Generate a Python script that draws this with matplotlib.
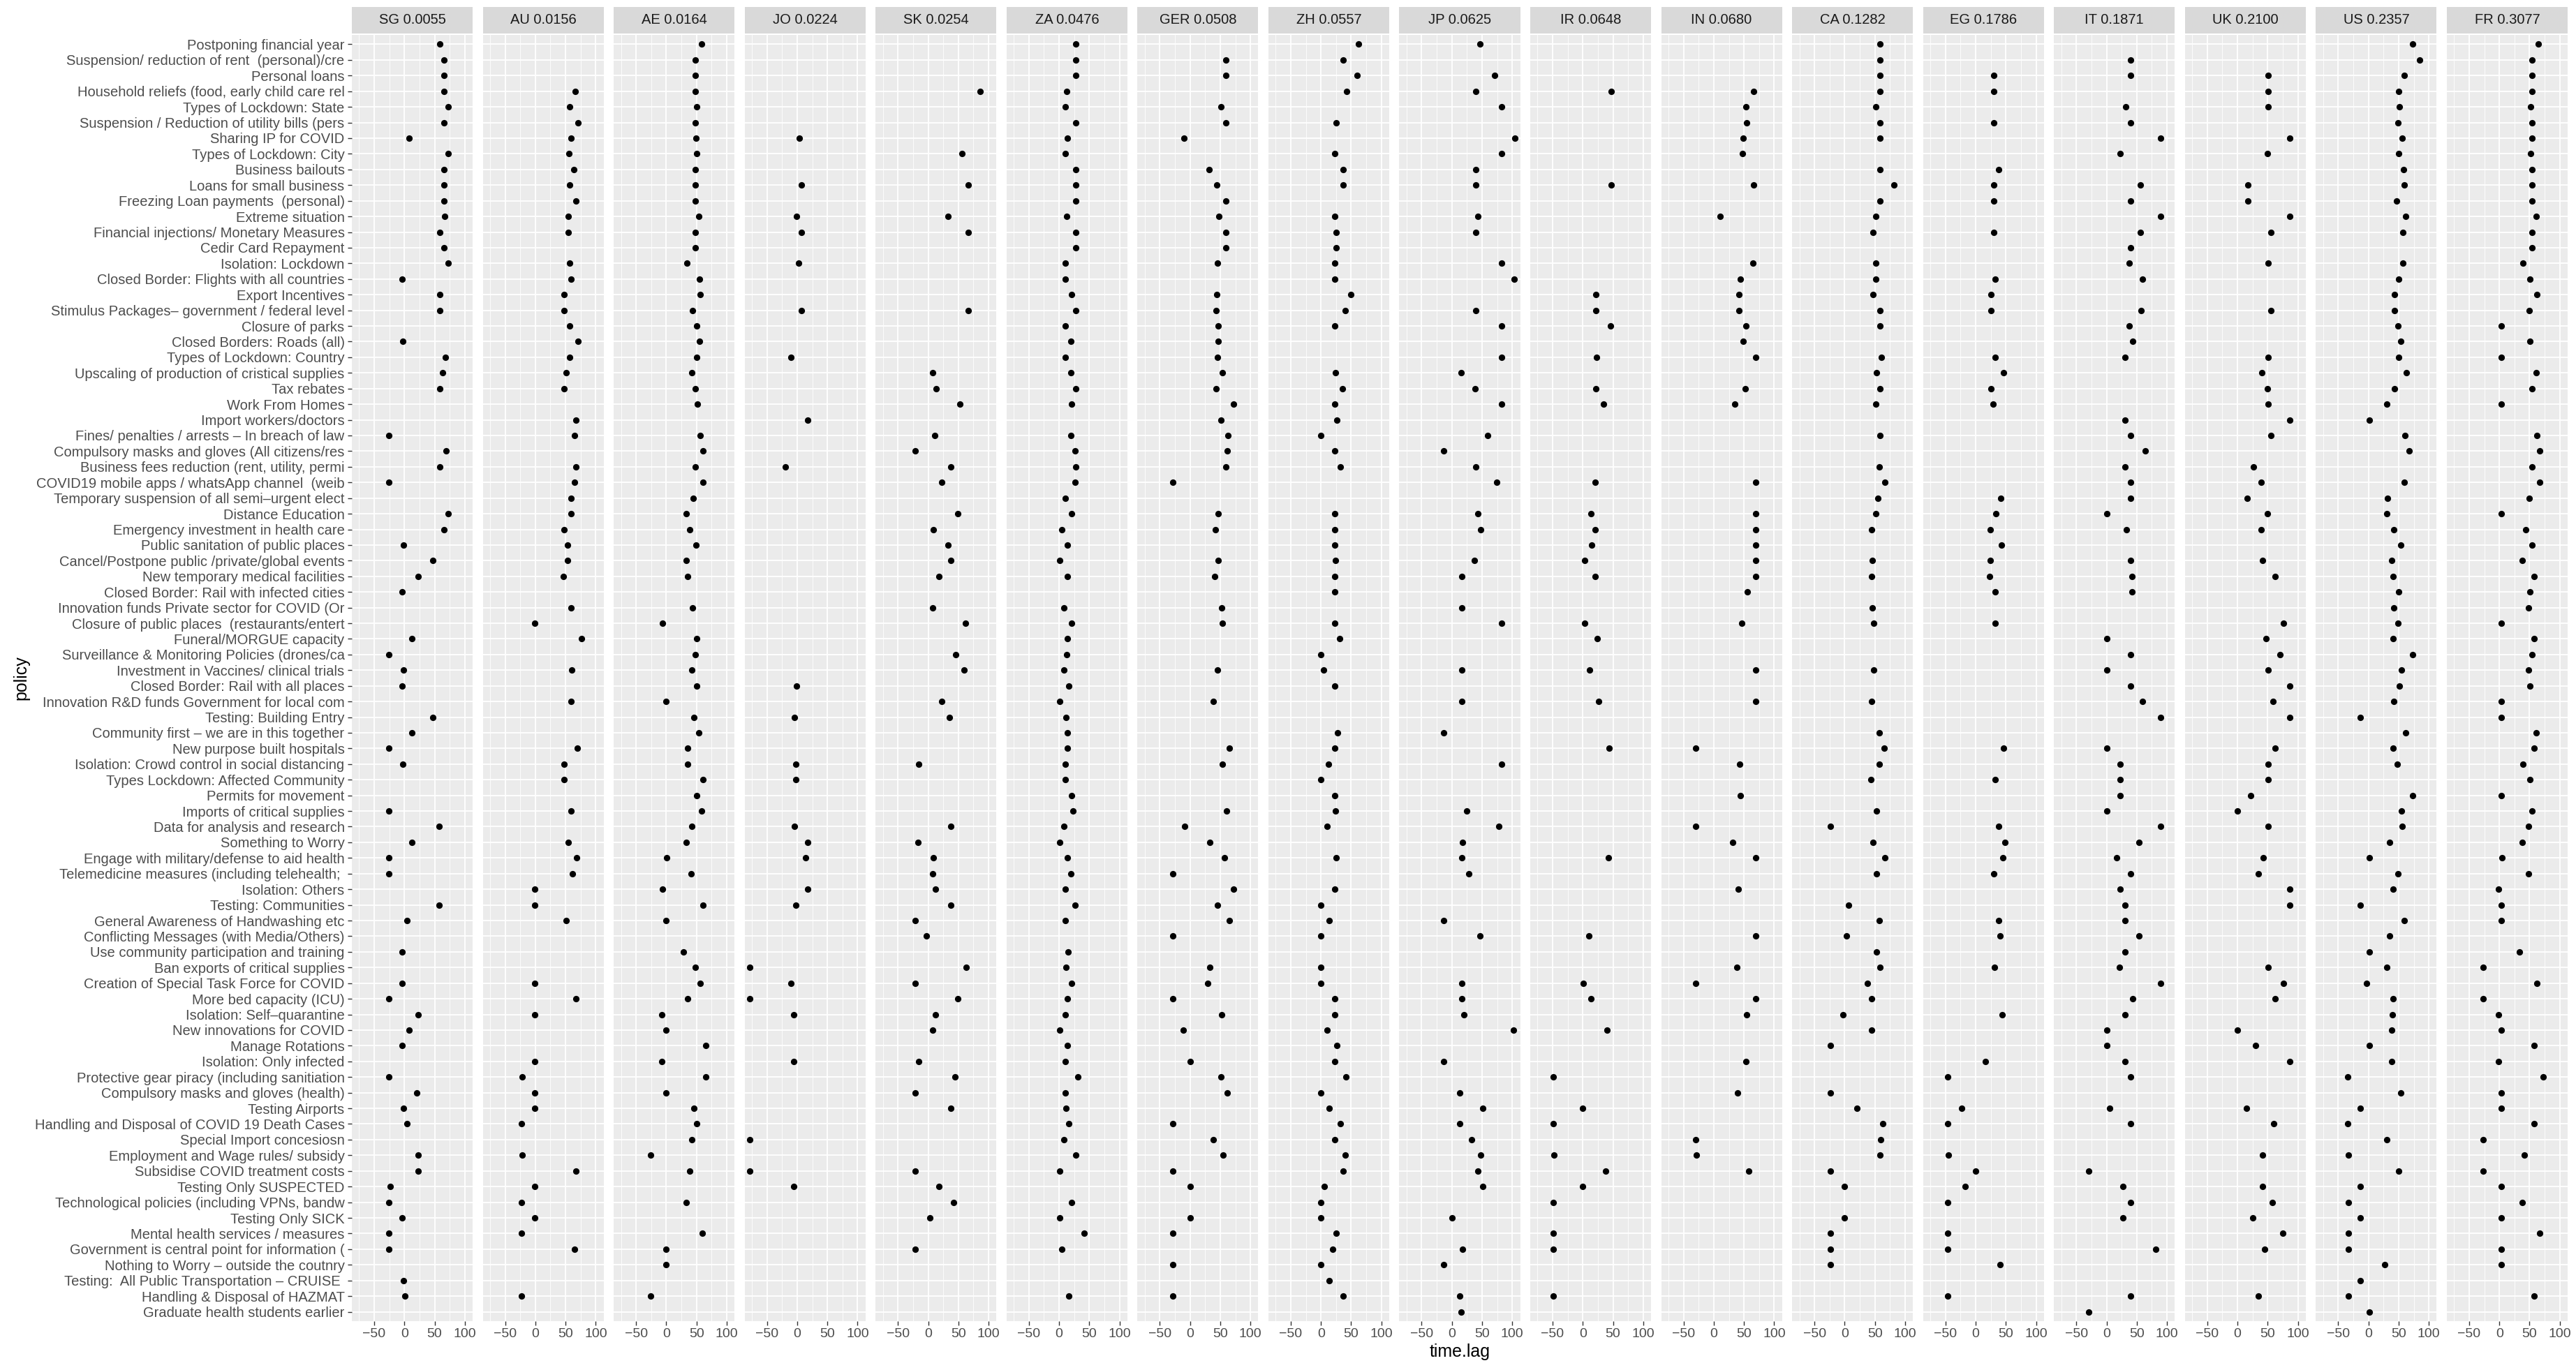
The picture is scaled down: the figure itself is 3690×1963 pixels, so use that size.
import numpy as np
import matplotlib
matplotlib.use("Agg")
import matplotlib.pyplot as plt

plt.rcParams['font.family'] = ['Liberation Sans', 'DejaVu Sans']

policies = [
    "Postponing financial year",
    "Suspension/ reduction of rent  (personal)/cre",
    "Personal loans",
    "Household reliefs (food, early child care rel",
    "Types of Lockdown: State",
    "Suspension / Reduction of utility bills (pers",
    "Sharing IP for COVID",
    "Types of Lockdown: City",
    "Business bailouts",
    "Loans for small business",
    "Freezing Loan payments  (personal)",
    "Extreme situation",
    "Financial injections/ Monetary Measures",
    "Cedir Card Repayment",
    "Isolation: Lockdown",
    "Closed Border: Flights with all countries",
    "Export Incentives",
    "Stimulus Packages\u2013 government / federal level",
    "Closure of parks",
    "Closed Borders: Roads (all)",
    "Types of Lockdown: Country",
    "Upscaling of production of cristical supplies",
    "Tax rebates",
    "Work From Homes",
    "Import workers/doctors",
    "Fines/ penalties / arrests \u2013 In breach of law",
    "Compulsory masks and gloves (All citizens/res",
    "Business fees reduction (rent, utility, permi",
    "COVID19 mobile apps / whatsApp channel  (weib",
    "Temporary suspension of all semi\u2013urgent elect",
    "Distance Education",
    "Emergency investment in health care",
    "Public sanitation of public places",
    "Cancel/Postpone public /private/global events",
    "New temporary medical facilities",
    "Closed Border: Rail with infected cities",
    "Innovation funds Private sector for COVID (Or",
    "Closure of public places  (restaurants/entert",
    "Funeral/MORGUE capacity",
    "Surveillance & Monitoring Policies (drones/ca",
    "Investment in Vaccines/ clinical trials",
    "Closed Border: Rail with all places",
    "Innovation R&D funds Government for local com",
    "Testing: Building Entry",
    "Community first \u2013 we are in this together",
    "New purpose built hospitals",
    "Isolation: Crowd control in social distancing",
    "Types Lockdown: Affected Community",
    "Permits for movement",
    "Imports of critical supplies",
    "Data for analysis and research",
    "Something to Worry",
    "Engage with military/defense to aid health",
    "Telemedicine measures (including telehealth; ",
    "Isolation: Others",
    "Testing: Communities",
    "General Awareness of Handwashing etc",
    "Conflicting Messages (with Media/Others)",
    "Use community participation and training",
    "Ban exports of critical supplies",
    "Creation of Special Task Force for COVID",
    "More bed capacity (ICU)",
    "Isolation: Self\u2013quarantine",
    "New innovations for COVID",
    "Manage Rotations",
    "Isolation: Only infected",
    "Protective gear piracy (including sanitiation",
    "Compulsory masks and gloves (health)",
    "Testing Airports",
    "Handling and Disposal of COVID 19 Death Cases",
    "Special Import concesiosn",
    "Employment and Wage rules/ subsidy",
    "Subsidise COVID treatment costs",
    "Testing Only SUSPECTED",
    "Technological policies (including VPNs, bandw",
    "Testing Only SICK",
    "Mental health services / measures",
    "Government is central point for information (",
    "Nothing to Worry \u2013 outside the coutnry",
    "Testing:  All Public Transportation \u2013 CRUISE ",
    "Handling & Disposal of HAZMAT",
    "Graduate health students earlier",
]

countries = ["SG", "AU", "AE", "JO", "SK", "ZA", "GER", "ZH", "JP",
             "IR", "IN", "CA", "EG", "IT", "UK", "US", "FR"]
scores = ["0.0055", "0.0156", "0.0164", "0.0224", "0.0254", "0.0476",
          "0.0508", "0.0557", "0.0625", "0.0648", "0.0680", "0.1282",
          "0.1786", "0.1871", "0.2100", "0.2357", "0.3077"]

# time.lag per country: {policy index: value}
SG = {0:59,1:66,2:66,3:65,4:72,5:65,6:7.5,7:72,8:65,9:65,10:65,11:67,12:59,13:65,14:72,
      15:-4,16:59,17:59,19:-2.5,20:68,21:63,22:59,25:-26,26:69,27:59,28:-26,30:72,31:65,
      32:-1,33:47,34:23,35:-4,38:12,39:-26,40:-1,41:-4,43:47,44:12,45:-26,46:-3,49:-26,
      50:58,51:12,52:-26,53:-26,55:57,56:4,58:-4,60:-4,61:-26,62:23,63:7.5,64:-4,66:-26,
      67:20,68:-2,69:4,71:23,72:23,73:-23,74:-26,75:-4,76:-26,77:-26,79:-2,80:1}
AU = {3:66,4:57,5:71,6:59,7:56,8:64,9:57,10:67,11:54,12:55,14:57,15:59,16:48,17:48,18:57,
      19:71,20:57,21:51,22:48,24:67,25:65,27:67,28:65,29:59,30:59,31:47.5,32:53,33:53,
      34:46,36:59,37:-1,38:76,40:60,42:59,45:69,46:48,47:48,49:59,51:54,52:68,53:61,
      54:-1,55:-1,56:51,60:-1,61:67,62:-1,65:-1,66:-22,67:-1,68:-1,69:-23,71:-22,72:67,
      73:-1,74:-23,75:-1,76:-23,77:65,80:-23}
AE = {0:58,1:48,2:48,3:48,4:50,5:48,6:49,7:50,8:48,9:48,10:48,11:54,12:48,13:48,14:34,
      15:55,16:56,17:44,18:50,19:55,20:50,21:42,22:48,23:52,25:56,26:61,27:48,28:61,
      29:45,30:33,31:39,32:49,33:33,34:35,36:43,37:-6,38:50,39:48,40:42,41:50,42:0,
      43:46,44:54,45:35,46:35,47:61,48:50,49:58,50:42,51:33,52:1,53:41,54:-6,55:61,
      56:0,58:29,59:48,60:56,61:35,62:-7,63:0,64:65,65:-7,66:65,67:0,68:46,69:50,70:42,
      71:-26,72:39,74:33,76:60,77:0,78:0,80:-26}
JO = {6:3,9:7,11:-1,12:7,14:2,17:7,20:-10,24:17,27:-20,41:-1,43:-4,46:-2,47:-2,50:-4,
      51:17,52:14,54:17,55:-2,59:-78,60:-10,61:-78,62:-6,65:-6,70:-78,72:-78,73:-6}
SK = {3:86,7:56,9:66,11:33,12:66,17:66,21:7,22:13,23:52,25:11,26:-21,27:38,28:22.5,
      30:49,31:9,32:33,33:38,34:17.5,36:7,37:62,39:46,40:59,42:23,43:35,46:-16,50:37.5,
      51:-17,52:9,53:8,54:12.5,55:37,56:-21,57:-2.5,59:62.5,60:-21,61:49,62:12.5,63:7,
      65:-16,66:44,67:-21,68:37.5,72:-21,73:17.5,74:42.5,75:3,77:-21}
ZA = {0:28,1:28,2:28,3:13,4:10,5:28,6:14,7:10,8:28,9:28,10:28,11:13,12:28,13:28,14:10,
      15:10,16:21,17:28,18:10,19:20,20:10,21:19,22:28,23:21,25:19,26:26,27:28,28:26,
      29:10,30:21,31:4,32:14,33:1,34:14,36:8,37:21,38:14,39:13,40:7.5,41:16,42:1,43:11,
      44:14,45:14,46:10,47:10,48:21,49:22.5,50:7.5,51:1,52:14,53:19,54:10,55:26,56:10,
      58:15,59:12,60:21,61:14,62:10,63:1,64:14,65:10,66:31,67:10,68:12,69:16,70:7.5,
      71:28,72:1,74:21,75:1,76:42,77:4,80:16}
GER = {1:59,2:59,4:51,5:59,6:-10,8:32,9:44,10:59,11:48,12:59,13:59,14:46,16:44,17:43,
       18:47,19:47,20:46,21:54,22:43,23:72,24:51,25:63,26:62,27:59,28:-28,30:47,31:42,
       33:47,34:41,36:52,37:54,40:46,42:39,45:65,46:54,49:60,50:-9,51:33,52:57,53:-28,
       54:72,55:46,56:65,57:-28,59:33,60:29,61:-28,62:52,63:-11,65:0,66:51,67:62,
       69:-28,70:39,71:55,72:-28,73:0,75:0,76:-28,78:-28,80:-28}
ZH = {0:62,1:37,2:60,3:42,5:25,7:23,8:37,9:37,11:23,12:25,13:25,14:23,15:23,16:50,
      17:40,18:23,21:24,22:36,23:23,24:26,25:0,26:23,27:32,30:23,31:23,32:23,33:24,
      34:23,35:23,37:23,38:31,39:0,40:4,41:23,44:28,45:23,46:13,47:0,48:23,49:24,50:10,
      52:25,54:23,55:0,56:14,57:0,59:0,60:0,61:23,62:23,63:10,64:26,65:23,66:41,67:0,
      68:14,69:32,70:23,71:40,72:37,73:6,74:0,75:0,76:25,77:20,78:0,79:14,80:37}
JP = {0:47,2:71,3:40,4:82,6:104,7:82,8:40,9:40,11:43,12:40,14:82,15:103,17:40,18:82,
      20:82,21:15,22:39,23:82,25:59,26:-14,27:40,28:74,30:42.5,31:47.5,33:37,34:16,
      36:16,37:82,40:16,42:16,44:-14,46:82,49:25,50:78,51:17.5,52:16,53:27.5,56:-14,
      57:47,60:16,61:16,62:20,63:102,65:-14,67:12.5,68:51,69:12.5,70:32.5,71:47.5,
      72:42.5,73:51,75:0,77:17.5,78:-14,80:12.5,81:15}
IR = {3:47,9:47,16:22,17:22,18:46,20:23,22:22,23:34,28:21,30:14,31:21,32:15,33:3,
      34:20,37:3,38:24,40:11,42:26,45:43,52:42,57:10,60:1,61:14,63:40,66:-49,68:0,
      69:-49,71:-48,72:38,73:0,74:-49,76:-49,77:-49,80:-49}
IN = {3:66,4:53,5:55,6:49,7:47,9:66,11:10,14:65,15:44,16:42,17:42,18:53,19:49,20:70,
      22:52,23:35,28:70,30:70,31:70,32:70,33:70,34:70,35:56,37:46,40:70,42:70,45:-30,
      46:43,48:44,50:-30,51:31,52:70,54:41,57:70,59:38,60:-30,61:70,62:54,65:53,67:40,
      70:-30,71:-29,72:58}
CA = {0:59,1:59,2:59,3:59,4:51,5:59,6:59,8:59,9:81,10:59,11:52,12:47,14:52,15:52,16:47,
      17:59,18:59,20:61,21:52.5,22:59,23:51,25:59,27:57,28:66,29:55,30:51,31:45,33:46,
      34:45,36:46,37:47.5,40:48,42:45,44:57,45:65,46:57,47:43,49:52.5,50:-24,51:47,
      52:66,53:52.5,55:6,56:57,57:3,58:52.5,59:58,60:38,61:44,62:-2.5,63:45,64:-24,
      67:-24,68:20,69:62.5,70:60,71:59,72:-24,73:0,75:0,76:-24,77:-24,78:-24}
EG = {2:30,3:30,5:30,8:38,9:30,10:30,12:30,15:32,16:25,17:25,20:32,21:46,22:25,23:29,
      29:42,30:33,31:24,32:43,33:24,34:23,35:32,37:32,45:46,47:32,50:38,51:49,52:45,
      53:30,56:38,57:40,59:31,62:44,65:16,66:-46,68:-23,69:-46,71:-45,72:0,73:-17,
      74:-46,76:-46,77:-46,78:40,80:-46}
IT = {1:40,2:40,4:32,5:40,6:89,7:22,9:56,10:40,11:89,12:56,13:40,14:38,15:60,17:57,
      18:38,19:43,20:30,24:30,25:40,26:64,27:30,28:40,29:40,30:1,31:33,33:40,34:42,
      35:42,38:1,39:40,40:1,41:40,42:60,43:89,45:1,46:23,47:23,48:23,49:1,50:89,51:54,
      52:17,53:40,54:23,55:30,56:30,57:54,58:31,59:21,60:89,61:43,62:30,63:1,64:1,
      65:30,66:40,68:5,69:40,72:-29,73:27,74:40,75:27,77:82,80:40,81:-29}
UK = {2:51,3:51,4:51,6:87,7:50,9:17,10:17,11:87,12:55,14:51,17:55,20:51,21:40,22:49,
      23:51,24:86,25:55,27:27,28:39,29:16,30:50,31:39,33:41,34:62,37:76,38:47,39:70,
      40:51,41:86,42:59,43:86,45:62,46:51,47:51,48:22,49:0,50:51,52:43,53:35,54:86,
      55:86,59:51,60:76,61:62,63:0,64:30,65:86,68:15,69:60,71:41,73:41,74:58,75:25,
      76:75,77:45,80:35}
US = {0:73,1:85,2:59,3:50,4:51,5:49,6:56,7:50,8:58,9:59,10:47,11:62,12:57,14:57,15:50,
      16:43,17:43,18:49,19:53,20:50,21:63,22:43,23:30,24:1,25:60,26:67,28:59,29:32,
      30:30,31:42,32:54,33:39,34:41,35:50,36:42,37:49,38:41,39:73,40:55,41:51,42:42,
      43:-14,44:62,45:41,46:48,48:73,49:55,50:56,51:35,52:1,53:49,54:41,55:-14,56:59,
      57:35,58:2,59:30,60:-2.5,61:41,62:40,63:38,64:2,65:39,66:-34,67:54,68:-14,
      69:-34,70:30,71:-33,72:50,73:-14,74:-33,75:-14,76:-33,77:-33,78:27,79:-14,
      80:-33,81:2}
FR = {0:64,1:54,2:54,3:54,4:52,5:54,6:54,7:52,8:54,9:54,10:54,11:61,12:54,13:54,14:39,
      15:51,16:62,17:50,18:3,19:51,20:3,21:61,22:54,23:3,25:62,26:67,27:54,28:67,29:50,
      30:3,31:44,32:54,33:38,34:58,35:51,36:48,37:3,38:58,39:54,40:48,41:51,42:3,43:3,
      44:61,45:58,46:39,47:51,48:3,49:54,50:48,51:38,52:4,53:48,54:-1.5,55:3,56:3,
      58:33,59:-27,60:62,61:-27,62:-1.5,63:3,64:58,65:-1.5,66:72,67:3,68:3,69:58,
      70:-27,71:41,72:-27,73:3,74:38,75:3,76:67,77:3,78:3,80:58}

lags = {"SG": SG, "AU": AU, "AE": AE, "JO": JO, "SK": SK, "ZA": ZA, "GER": GER,
        "ZH": ZH, "JP": JP, "IR": IR, "IN": IN, "CA": CA, "EG": EG, "IT": IT,
        "UK": UK, "US": US, "FR": FR}

x_ticks = [-50, 0, 50, 100]
x_minor = [-75, -25, 25, 75]

W, H = 3691, 1963
fig = plt.figure(figsize=(W / 100, H / 100), dpi=100)
fig.patch.set_facecolor("white")

left_px, right_px = 504, 3678
top_px, bottom_px = 50, 1893
gap_px = 14.5
n = len(countries)
pw = (right_px - left_px - gap_px * (n - 1)) / n
npol = len(policies)

for k, c in enumerate(countries):
    x0 = left_px + k * (pw + gap_px)
    ax = fig.add_axes([x0 / W, 1 - bottom_px / H, pw / W, (bottom_px - top_px) / H])
    ax.set_facecolor("#ebebeb")
    for s in ax.spines.values():
        s.set_visible(False)
    d = lags[c]
    rows = list(d.keys())
    vals = [d[r] for r in rows]
    ax.scatter(vals, rows, s=44, color="black", zorder=3, linewidths=0)
    ax.set_xlim(-87, 113)
    ax.set_ylim(npol - 1 + 0.6, -0.6)
    ax.set_xticks(x_ticks)
    ax.set_xticks(x_minor, minor=True)
    ax.set_yticks(range(npol))
    ax.grid(which="major", axis="both", color="white", linewidth=1.3, zorder=0)
    ax.grid(which="minor", axis="x", color="white", linewidth=0.6, zorder=0)
    ax.set_axisbelow(True)
    ax.tick_params(axis="x", which="major", length=4.5, width=1.0, color="#333333",
                   labelsize=14, labelcolor="#4d4d4d", pad=3)
    ax.tick_params(axis="x", which="minor", length=0)
    if k == 0:
        ax.set_yticklabels(policies)
        ax.tick_params(axis="y", length=4.5, width=1.0, color="#333333",
                       labelsize=14.5, labelcolor="#4d4d4d", pad=3)
    else:
        ax.set_yticklabels([])
        ax.tick_params(axis="y", length=0)

    sax = fig.add_axes([x0 / W, 1 - 48 / H, pw / W, 38 / H])
    sax.set_facecolor("#d9d9d9")
    for s in sax.spines.values():
        s.set_visible(False)
    sax.set_xticks([])
    sax.set_yticks([])
    sax.text(0.5, 0.5, f"{c} {scores[k]}", ha="center", va="center",
             fontsize=14.5, color="#1a1a1a", transform=sax.transAxes)

fig.text((left_px + right_px) / 2 / W, 1 - 1937 / H, "time.lag",
         ha="center", va="center", fontsize=18, color="black")
fig.text(30 / W, 1 - (top_px + bottom_px) / 2 / H, "policy", rotation=90,
         ha="center", va="center", fontsize=18, color="black")

fig.savefig("out.png", dpi=100)
